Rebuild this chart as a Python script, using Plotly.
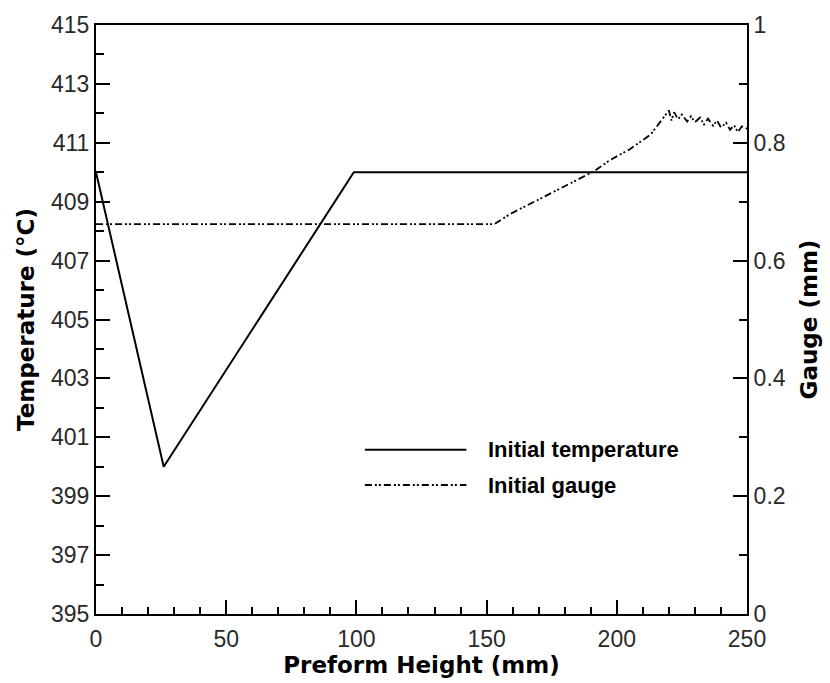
import plotly.graph_objects as go

# Initial temperature profile along the preform (°C)
temp_height = [0, 26, 99, 250]
temp_value = [410, 400, 410, 410]

# Initial wall gauge along the preform (mm)
gauge_height = [0, 153, 159, 167, 176, 185, 191.4, 197.5, 205, 213, 220,
                221, 222, 223.5, 225, 227, 228.5, 230, 232, 233.5, 235,
                237, 238.5, 240, 242, 243.5, 245, 246.5, 248, 250]
gauge_value = [0.662, 0.662, 0.679, 0.697, 0.717, 0.737, 0.752, 0.771, 0.789,
               0.814, 0.855, 0.838, 0.852, 0.840, 0.848, 0.836, 0.845, 0.835,
               0.843, 0.831, 0.841, 0.829, 0.838, 0.826, 0.834, 0.822, 0.830,
               0.818, 0.828, 0.824]

series_names = ["Initial temperature", "Initial gauge"]

GAUGE_DASH = "7px,3px,2px,2px,2px,3px"
TICK_FONT = dict(family="Liberation Sans, Arial, sans-serif", size=23, color="#2a2a2a")
TITLE_FONT = dict(family="DejaVu Sans, sans-serif", size=23, color="black", weight="bold")

fig = go.Figure()
fig.add_trace(go.Scatter(x=temp_height, y=temp_value, mode="lines",
                         name=series_names[0], showlegend=False,
                         line=dict(color="black", width=2)))
fig.add_trace(go.Scatter(x=gauge_height, y=gauge_value, mode="lines",
                         name=series_names[1], yaxis="y2", showlegend=False,
                         line=dict(color="black", width=1.8, dash=GAUGE_DASH)))

axis_common = dict(showgrid=False, zeroline=False, showline=True,
                   linecolor="black", linewidth=2, ticks="inside",
                   ticklen=14, tickwidth=2, tickcolor="black",
                   tickfont=TICK_FONT)

fig.update_layout(
    width=830, height=683,
    margin=dict(l=96, r=80, t=16, b=69),
    paper_bgcolor="white", plot_bgcolor="white",
    xaxis=dict(range=[0, 250], dtick=50, tick0=0, mirror=True,
               ticklabelstandoff=3,
               minor=dict(dtick=10, ticks="inside", ticklen=7, tickwidth=1.5,
                          tickcolor="black"),
               title=dict(text="Preform Height (mm)", font=TITLE_FONT, standoff=0),
               **axis_common),
    yaxis=dict(range=[395, 415], dtick=2, tick0=395,
               minor=dict(dtick=1, ticks="inside", ticklen=8, tickwidth=1.5,
                          tickcolor="black"),
               title=dict(text="Temperature (°C)", font=TITLE_FONT, standoff=10),
               **axis_common),
    yaxis2=dict(range=[0, 1], dtick=0.2, tick0=0, overlaying="y", side="right",
                minor=dict(dtick=0.1, ticks="inside", ticklen=8, tickwidth=1.5,
                           tickcolor="black"),
                title=dict(text="Gauge (mm)", font=TITLE_FONT, standoff=16),
                **axis_common),
)

# Legend block inside the plot area
legend_rows = [(0.279, dict(color="black", width=2)),
               (0.219, dict(color="black", width=1.8, dash=GAUGE_DASH))]
for (ypos, line_style), label in zip(legend_rows, series_names):
    fig.add_shape(type="line", xref="paper", yref="paper",
                  x0=0.413, x1=0.569, y0=ypos, y1=ypos, line=line_style)
    fig.add_annotation(xref="paper", yref="paper", x=0.599, y=ypos,
                       xanchor="left", yanchor="middle", showarrow=False,
                       text=label,
                       font=dict(family="Liberation Sans, Arial, sans-serif",
                                 size=22, color="black", weight="bold"))

fig.write_html("out.html")
